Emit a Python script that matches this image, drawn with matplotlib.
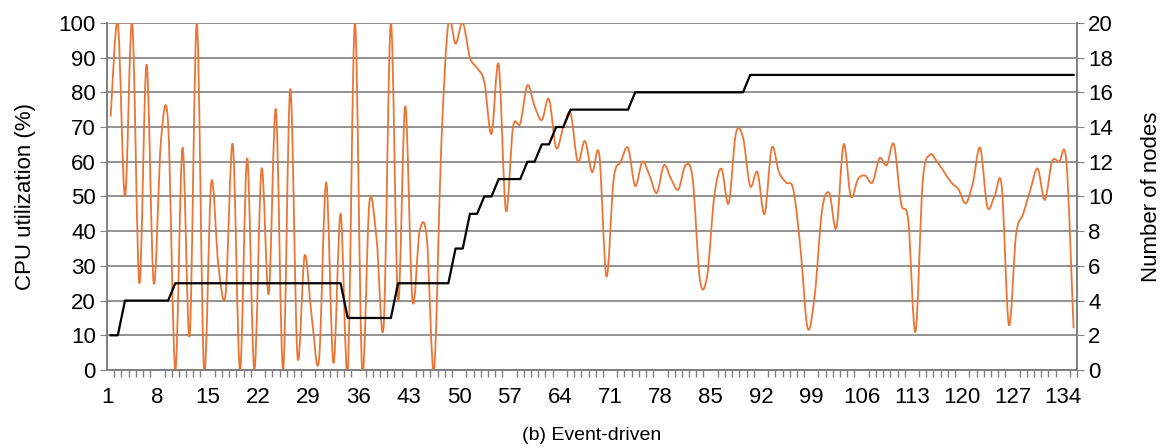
import numpy as np
import matplotlib
matplotlib.use("Agg")
import matplotlib.pyplot as plt
from matplotlib.path import Path
from matplotlib.patches import PathPatch

plt.rcParams['font.family'] = ['Liberation Sans', 'DejaVu Sans']

# event index (one sample per event)
events = np.arange(1, 136)

# CPU utilization (%)
cpu = [73, 100, 50, 100, 25, 88, 25, 66, 71, 0,
       64, 10, 100, 0, 54, 30, 22, 65, 0, 61,
       0, 58, 22, 75, 0, 81, 4, 33, 15, 3,
       54, 2, 45, 0, 100, 0, 48, 38, 13, 100,
       20, 76, 20, 40, 38, 0, 64, 100, 94, 100,
       90, 87, 83, 68, 88, 46, 70, 71, 82, 76,
       72, 78, 64, 70, 74, 60, 66, 57, 62, 27,
       55, 60, 64, 53, 60, 56, 51, 59, 55, 52,
       59, 55, 26, 27, 50, 58, 48, 68, 67, 53,
       57, 45, 64, 57, 54, 52, 35, 12, 22, 46,
       51, 41, 65, 50, 55, 56, 54, 61, 59, 65,
       48, 43, 11, 54, 62, 60, 57, 54, 52, 48,
       54, 64, 47, 50, 53, 13, 39, 45, 52, 58,
       49, 60, 60, 60, 12]

# number of nodes: level and how many events it lasts
node_levels = [2, 4, 5, 3, 5, 7, 9, 10, 11, 12, 13, 14, 15, 16, 17]
node_runs = [2, 7, 24, 7, 8, 2, 2, 2, 4, 2, 2, 2, 9, 16, 46]
nodes = np.repeat(node_levels, node_runs)

xtick_labels = list(range(1, 135, 7))

fig = plt.figure(figsize=(11.66, 4.48), dpi=100)
ax = fig.add_axes([0.0918, 0.174, 0.832, 0.775])
ax2 = ax.twinx()

# smooth orange line (bezier through the points, like the spreadsheet "smoothed line")
pts = np.column_stack([events, cpu]).astype(float)
verts = [pts[0]]
codes = [Path.MOVETO]
n = len(pts)
for i in range(n - 1):
    p0 = pts[max(i - 1, 0)]
    p1 = pts[i]
    p2 = pts[i + 1]
    p3 = pts[min(i + 2, n - 1)]
    c1 = p1 + (p2 - p0) / 6.0
    c2 = p2 - (p3 - p1) / 6.0
    verts += [c1, c2, p2]
    codes += [Path.CURVE4] * 3
ax.add_patch(PathPatch(Path(verts, codes), facecolor='none',
                       edgecolor='#EB7534', lw=1.3, zorder=3))

ax2.plot(events, nodes, color='black', lw=1.6, zorder=4)

ax.set_xlim(0.5, 135.5)
ax.set_ylim(0, 100)
ax2.set_ylim(0, 20)

ax.set_yticks(range(0, 101, 10))
ax2.set_yticks(range(0, 21, 2))
ax.yaxis.grid(True, color='#8a8a8a', lw=1.3)
ax.set_axisbelow(True)

# labels sit on the category boundaries, half a step left of each point
ax.set_xticks([v - 0.5 for v in xtick_labels])
ax.set_xticklabels([str(v) for v in xtick_labels])
ax.set_xticks(np.arange(0.5, 136, 1), minor=True)
ax.tick_params(axis='x', which='major', length=0, labelsize=16, pad=12)
ax.tick_params(axis='x', which='minor', length=5, width=1, color='#808080', direction='out')
ax.tick_params(axis='y', length=5, color='#808080', labelsize=16, pad=3)
ax2.tick_params(axis='y', length=5, color='#808080', labelsize=16, pad=3)

for a in (ax, ax2):
    a.spines['top'].set_visible(False)
    for s in ('left', 'right', 'bottom'):
        a.spines[s].set_color('#808080')
        a.spines[s].set_linewidth(1.3)

ax.set_ylabel('CPU utilization (%)', fontsize=16, labelpad=16)
ax2.set_ylabel('Number of nodes', fontsize=16, labelpad=20)
ax.set_xlabel('(b) Event-driven', fontsize=14, labelpad=14)

fig.savefig('out.png', dpi=100)
